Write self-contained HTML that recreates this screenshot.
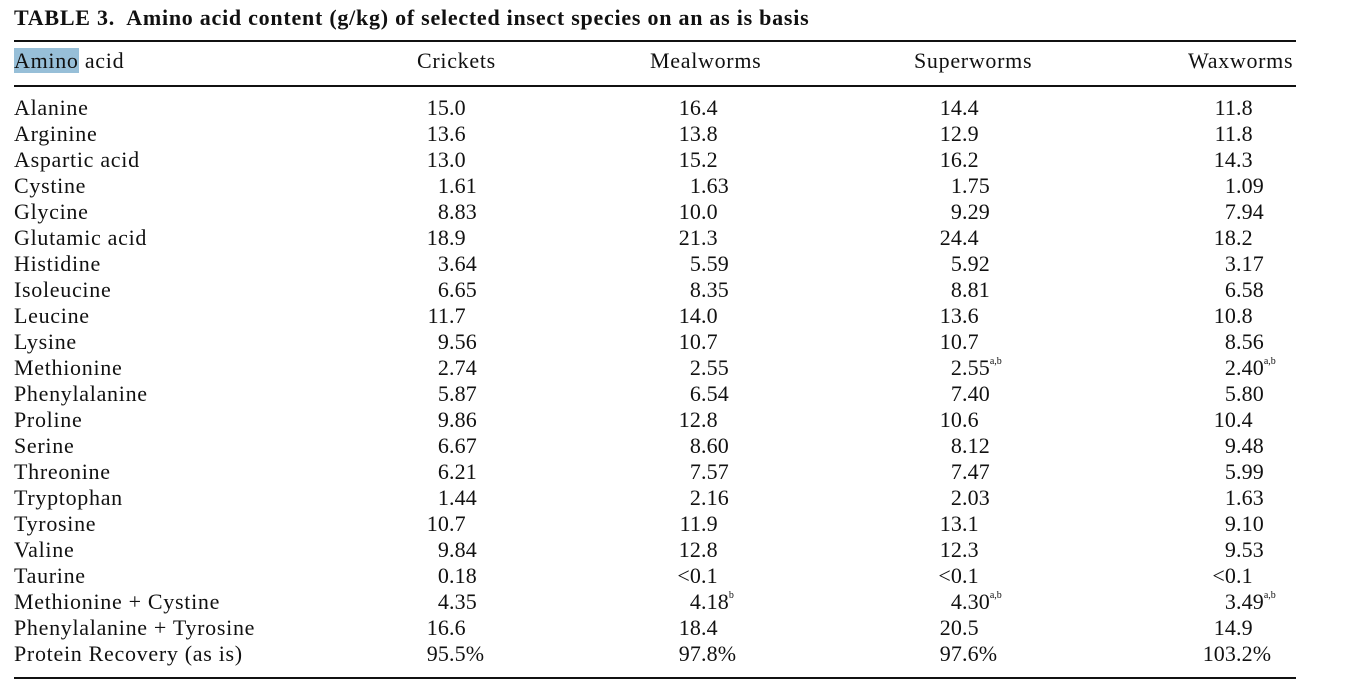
<!DOCTYPE html>
<html><head><meta charset="utf-8">
<style>
body{margin:0;background:#fff;width:1352px;height:693px;overflow:hidden;position:relative;font-family:"Liberation Serif",serif;color:#111;}
.t{position:absolute;white-space:nowrap;font-size:22px;line-height:24px;letter-spacing:0.7px;}
.n{letter-spacing:0.1px;}
.rule{position:absolute;left:14px;width:1282px;height:1.5px;background:#111;}
sup{font-size:10px;vertical-align:top;position:relative;top:-6px;letter-spacing:0;}
</style></head>
<body>
<div class="t" style="left:14px;top:6px;font-weight:bold;font-size:22px;letter-spacing:0.75px;">TABLE 3.&nbsp; Amino acid content (g/kg) of selected insect species on an as is basis</div>
<div class="rule" style="top:40px"></div>
<div class="rule" style="top:85px"></div>
<div class="rule" style="top:677px"></div>
<div class="t" style="left:14px;top:49px;"><span style="background:#97bfd8">Amino</span> acid</div>
<div class="t" style="left:417px;top:49px;">Crickets</div>
<div class="t" style="left:650px;top:49px;">Mealworms</div>
<div class="t" style="left:914px;top:49px;">Superworms</div>
<div class="t" style="left:1188px;top:49px;">Waxworms</div>
<script>
const aminoAcids=["Alanine","Arginine","Aspartic acid","Cystine","Glycine","Glutamic acid","Histidine","Isoleucine","Leucine","Lysine","Methionine","Phenylalanine","Proline","Serine","Threonine","Tryptophan","Tyrosine","Valine","Taurine","Methionine + Cystine","Phenylalanine + Tyrosine","Protein Recovery (as is)"];
const crickets=["15.0","13.6","13.0","1.61","8.83","18.9","3.64","6.65","11.7","9.56","2.74","5.87","9.86","6.67","6.21","1.44","10.7","9.84","0.18","4.35","16.6","95.5%"];
const mealworms=["16.4","13.8","15.2","1.63","10.0","21.3","5.59","8.35","14.0","10.7","2.55","6.54","12.8","8.60","7.57","2.16","11.9","12.8","<0.1","4.18|b","18.4","97.8%"];
const superworms=["14.4","12.9","16.2","1.75","9.29","24.4","5.92","8.81","13.6","10.7","2.55|a,b","7.40","10.6","8.12","7.47","2.03","13.1","12.3","<0.1","4.30|a,b","20.5","97.6%"];
const waxworms=["11.8","11.8","14.3","1.09","7.94","18.2","3.17","6.58","10.8","8.56","2.40|a,b","5.80","10.4","9.48","5.99","1.63","9.10","9.53","<0.1","3.49|a,b","14.9","103.2%"];
const cols=[["crickets",crickets,449],["mealworms",mealworms,701],["superworms",superworms,962],["waxworms",waxworms,1236]];
const root=document.body;
aminoAcids.forEach((name,i)=>{
  const top=96+i*26;
  const lab=document.createElement('div');
  lab.className='t';lab.style.left='14px';lab.style.top=top+'px';
  lab.textContent=name;
  
  
  root.appendChild(lab);
  cols.forEach(([cn,arr,dx])=>{
    const [v,sup]=arr[i].split('|');
    const k=v.indexOf('.');
    const ip=v.slice(0,k), rest=v.slice(k);
    const a=document.createElement('div');
    a.className='t n';a.style.right=(1352-dx)+'px';a.style.top=top+'px';a.textContent=ip;
    
    
    root.appendChild(a);
    const b=document.createElement('div');
    b.className='t n';b.style.left=dx+'px';b.style.top=top+'px';
    b.textContent=rest;
    if(sup){const s=document.createElement('sup');s.textContent=sup;b.appendChild(s);}
    
    
    root.appendChild(b);
  });
});
</script>
</body></html>
